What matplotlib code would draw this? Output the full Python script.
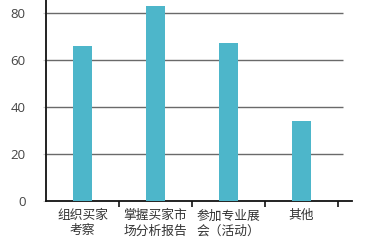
import matplotlib
matplotlib.use("Agg")
import matplotlib.pyplot as plt

plt.rcParams['font.family'] = ['Noto Sans CJK SC', 'DejaVu Sans']

categories = ["组织买家\n考察", "掌握买家市\n场分析报告", "参加专业展\n会（活动）", "其他"]
values = [66, 83, 67, 34]
yticks = [0, 20, 40, 60, 80]

fig = plt.figure(figsize=(3.8, 2.48), dpi=100)
W, H = 380, 248
ax = fig.add_axes([46 / W, 47 / H, (352 - 46) / W, 201 / H])

x = list(range(len(categories)))
ax.bar(x, values, width=0.27, color="#4db6ca", zorder=3)

ax.set_xlim(-0.5, 3.69)
ax.set_ylim(0, 85.5)
ax.hlines([20, 40, 60, 80], -0.5, 3.57, colors="#6a6a6a", linewidth=1.0, zorder=1)

for s in ["top", "right"]:
    ax.spines[s].set_visible(False)
ax.spines["left"].set_color("#111111")
ax.spines["left"].set_linewidth(1.3)
ax.spines["bottom"].set_color("#111111")
ax.spines["bottom"].set_linewidth(1.3)

ax.set_yticks(yticks)
ax.set_yticklabels([str(v) for v in yticks], fontsize=9.5, color="#444444",
                   family=['Open Sans', 'DejaVu Sans'])
ax.tick_params(axis="y", length=2, color="#cccccc", pad=12.5)

ax.set_xticks(x)
ax.set_xticklabels(categories, fontsize=9.2, color="#333333", linespacing=1.2)
ax.tick_params(axis="x", which="major", length=0, pad=6)
ax.set_xticks([0.5, 1.5, 2.5, 3.5], minor=True)
ax.tick_params(axis="x", which="minor", length=4, width=1.2, color="#111111", direction="out")

fig.savefig("out.png", dpi=100)
